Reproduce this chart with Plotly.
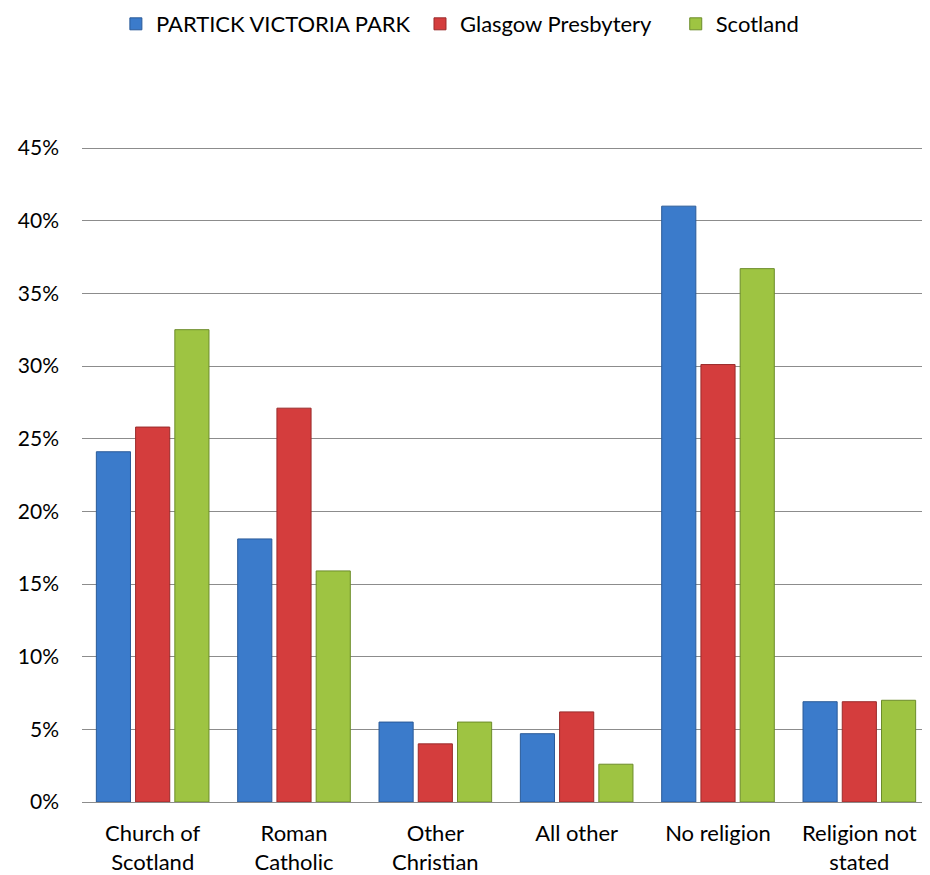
import plotly.graph_objects as go

categories = ["Church of<br>Scotland", "Roman<br>Catholic", "Other<br>Christian",
              "All other", "No religion", "Religion not<br>stated"]
partick = [24.1, 18.1, 5.5, 4.7, 41.0, 6.9]
glasgow = [25.8, 27.1, 4.0, 6.2, 30.1, 6.9]
scotland = [32.5, 15.9, 5.5, 2.6, 36.7, 7.0]
series_names = ["PARTICK VICTORIA PARK", "Glasgow Presbytery", "Scotland"]
tick_vals = [0, 5, 10, 15, 20, 25, 30, 35, 40, 45]
tick_text = [f"{v}%" for v in tick_vals]

fills = ["#3B7BCB", "#D43D3D", "#9EC442"]
edges = ["#2A5A98", "#9A2B2B", "#6C8C2A"]
legend_ids = ["legend", "legend2", "legend3"]
legend_x = [0.116, 0.443, 0.718]

font_family = "Lato, 'Open Sans', sans-serif"

fig = go.Figure()
for name, vals, fc, ec, lg in zip(series_names, [partick, glasgow, scotland], fills, edges, legend_ids):
    fig.add_trace(go.Bar(
        x=categories, y=vals, name=name, legend=lg,
        marker=dict(color=fc, line=dict(color=ec, width=1)),
    ))

legend_common = dict(
    orientation="h", xref="container", yref="container",
    xanchor="left", y=0.9817, yanchor="middle",
    font=dict(size=22, color="#000000"), itemwidth=30,
    bgcolor="rgba(0,0,0,0)",
)
layout_legends = {}
for lg, lx in zip(legend_ids, legend_x):
    layout_legends[lg] = dict(legend_common, x=lx)

fig.update_layout(
    width=930, height=875,
    paper_bgcolor="white", plot_bgcolor="white",
    margin=dict(l=74, r=8, t=139, b=79),
    barmode="group", bargap=0.167, bargroupgap=0.13,
    font=dict(family=font_family, size=22, color="#000000"),
    showlegend=True,
    **layout_legends,
)
fig.update_yaxes(
    range=[0, 45.07], tickvals=tick_vals, ticktext=tick_text,
    showgrid=True, gridcolor="#8C8C8C", gridwidth=1,
    ticks="", showline=False, zeroline=False,
    tickfont=dict(size=21), ticklabelstandoff=22,
)
fig.update_xaxes(
    showline=True, linecolor="#8C8C8C", linewidth=1,
    ticks="", tickfont=dict(size=22), ticklabelstandoff=12,
)

fig.write_html("out.html")
